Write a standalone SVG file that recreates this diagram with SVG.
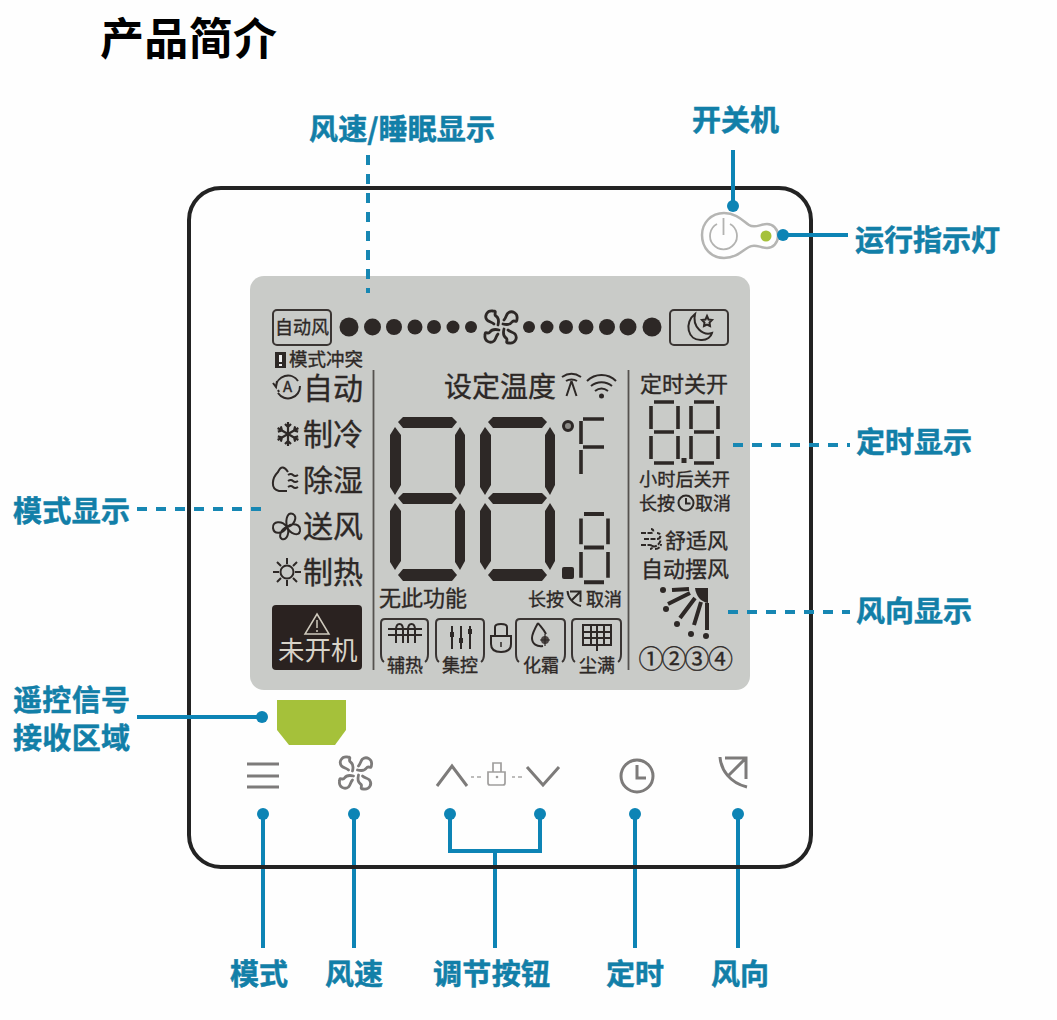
<svg xmlns="http://www.w3.org/2000/svg" xmlns:xlink="http://www.w3.org/1999/xlink" width="1057" height="1020" viewBox="0 0 1057 1020">
<style>
text{font-family:"Noto Sans CJK SC","Noto Sans",sans-serif}
.t{fill:#2d2826;stroke:#2d2826;stroke-width:.35}
.lab{fill:#127fa8;font-weight:700;font-size:29px;stroke:#127fa8;stroke-width:.5}
.ln{stroke:#0d84b5;stroke-width:4;fill:none}
.da{stroke:#1787b3;stroke-width:4;fill:none;stroke-dasharray:10 9}
.dot{fill:#0d84b5}
.ic{fill:none;stroke:#2d2826;stroke-width:2}
.bx{fill:none;stroke:#3a3533;stroke-width:2}
.seg{fill:#2d2826}
.sg{stroke:#2d2826;stroke-width:3.6;fill:none}
.gr{fill:none;stroke:#7d7b7a;stroke-width:3}
</style>
<defs>
<g id="digit">
<polygon class="seg" points="8,5 13,0 62,0 67,5 62,11 13,11"/>
<polygon class="seg" points="8,81 13,76 62,76 67,81 62,87 13,87"/>
<polygon class="seg" points="8,158 13,152 62,152 67,158 62,164 13,164"/>
<polygon class="seg" points="5,10 11,18 11,68 5,78 0,70 0,18"/>
<polygon class="seg" points="5,86 11,94 11,144 5,153 0,145 0,94"/>
<polygon class="seg" points="70,10 75,18 75,68 70,78 65,70 65,18"/>
<polygon class="seg" points="70,86 75,94 75,144 70,153 65,145 65,94"/>
</g>
<g id="small">
<path class="sg" d="M4,0H24M4,30H24M4,61H24M1,4V27M1,34V57M28,4V27M28,34V57"/>
</g>
<path id="blade" d="M-3,-2C-2,-6-2,-9-5,-11C-8,-13-3,-16-8,-16C-14,-17-17,-11-14,-7C-12,-5-9,-5-7,-3" fill="none" stroke-width="2.800" stroke-linecap="round"/>
<g id="fan">
<use xlink:href="#blade" href="#blade"/>
<use xlink:href="#blade" href="#blade" transform="rotate(90)"/>
<use xlink:href="#blade" href="#blade" transform="rotate(180)"/>
<use xlink:href="#blade" href="#blade" transform="rotate(270)"/>
</g>
<g id="swing">
<path d="M-15,-18C-14,-5-5,8 12,12M-10,-17H11V4M11,-17L-7,1" fill="none"/>
</g>
<path id="flk" d="M0,0V-12M-3,-10L0,-7L3,-10" fill="none" stroke="#2d2826" stroke-width="2.200"/>
</defs>
<rect width="1057" height="1020" fill="#fefefe"/>
<text x="100" y="55" font-size="44" font-weight="700" fill="#000" textLength="177">产品简介</text>

<g id="device">
<rect x="189" y="188" width="622" height="679" rx="32" fill="#fefefe" stroke="#232323" stroke-width="4"/>
</g>

<g id="lcd">
<rect x="250" y="276" width="500" height="414" rx="14" fill="#c9cbc8"/>
<path d="M373.500,370V670M628.500,370V670" stroke="#55524f" stroke-width="1.800"/>
<g id="fan-speed">
<rect x="273" y="310" width="58" height="35" rx="4" class="bx"/>
<text class="t" x="275" y="334" font-size="18" textLength="54">自动风</text>
<g class="seg">
<circle cx="349" cy="327" r="9.500"/><circle cx="372.500" cy="327" r="8.500"/><circle cx="394" cy="327" r="8"/><circle cx="415" cy="327" r="7.500"/><circle cx="434" cy="327" r="7"/><circle cx="453" cy="327" r="6.500"/><circle cx="471" cy="327" r="6"/>
<circle cx="529" cy="327" r="6"/><circle cx="547" cy="327" r="6.500"/><circle cx="566" cy="327" r="7"/><circle cx="586" cy="327" r="7.500"/><circle cx="607" cy="327" r="8"/><circle cx="628" cy="327" r="8.500"/><circle cx="652" cy="327" r="9.500"/>
</g>
<use xlink:href="#fan" href="#fan" x="501" y="327" stroke="#2d2826"/>
<rect x="670" y="310" width="58" height="35" rx="4" class="bx"/>
<path class="ic" d="M695,314C684,322 687,341 702,340C707,340 711,337 712,333C703,336 692,327 695,314Z"/>
<path class="ic" d="M707,316l1.500,3.500 3.500,.5 -2.500,2.500 .5,3.500 -3,-1.500 -3,1.500 .5,-3.500 -2.500,-2.500 3.500,-.5Z"/>
</g>
<g id="modes">
<rect x="275" y="352" width="11" height="16" fill="#2d2826"/><rect x="279" y="355" width="3" height="7" fill="#eee"/><rect x="279" y="364" width="3" height="2" fill="#eee"/>
<text class="t" x="289" y="366" font-size="18.500">模式冲突</text>
<path class="ic" d="M276,387a12,12 0 0 1 22,-6M300,386a12,12 0 0 1 -22,7M277,381l-1,6 -3,-4M279,392l-1,-2"/><text class="t" x="283" y="392" font-size="15">A</text>
<text class="t" x="303" y="399" font-size="30">自动</text>
<g transform="translate(288,434)"><use xlink:href="#flk" href="#flk"/><use xlink:href="#flk" href="#flk" transform="rotate(60)"/><use xlink:href="#flk" href="#flk" transform="rotate(120)"/><use xlink:href="#flk" href="#flk" transform="rotate(180)"/><use xlink:href="#flk" href="#flk" transform="rotate(240)"/><use xlink:href="#flk" href="#flk" transform="rotate(300)"/></g>
<text class="t" x="303" y="445" font-size="30">制冷</text>
<path class="ic" d="M288,472C285,467 281,465 278,472C272,478 270,489 279,491H287"/><path class="ic" d="M288,475q3,-2 5,0t5,0M288,481q3,-2 5,0t5,0M288,487q3,-2 5,0t5,0"/>
<text class="t" x="303" y="491" font-size="30">除湿</text>
<path class="ic" stroke-width="2.200" d="M287,527C282,520 272,521 273,528C274,535 283,534 287,527ZM287,527C285,518 288,512 293,514C298,517 294,526 287,527ZM287,527C292,522 301,524 300,531C299,537 290,534 287,527ZM287,527C290,532 287,541 282,539C278,537 281,529 287,527Z"/>
<text class="t" x="303" y="537" font-size="30">送风</text>
<circle class="ic" cx="287" cy="572" r="6.500"/><path class="ic" d="M287,558v6M287,580v6M273,572h6M295,572h6M277,562l4,4M293,578l4,4M297,562l-4,4M277,582l4,-4"/>
<text class="t" x="303" y="583" font-size="30">制热</text>
<rect x="272" y="605" width="90" height="65" rx="4" fill="#2a2220"/>
<path d="M317,614L329,634H305Z" fill="none" stroke="#cfcabd" stroke-width="1.500"/><path d="M317,620v8M317,630v2" stroke="#cfcabd" stroke-width="1.500"/>
<text x="278" y="660" font-size="26.500" fill="#d8d3c8">未开机</text>
</g>
<g id="temperature">
<text class="t" x="444" y="397" font-size="28">设定温度</text>
<path class="ic" d="M562,377c6,-4 13,-4 19,0M566,381c3,-2 8,-2 11,0M571.500,381l-5,15M571.500,381l5,15"/>
<path class="ic" stroke-width="2.500" d="M587,381c8,-8 21,-8 29,0M591,386c6,-5 15,-5 21,0M595,391c4,-3 9,-3 13,0"/><circle cx="601.500" cy="396" r="2.500" fill="#2d2826"/>
<use xlink:href="#digit" href="#digit" x="390" y="417"/>
<use xlink:href="#digit" href="#digit" x="480" y="417"/>
<circle cx="568" cy="426" r="4.500" fill="#8b8a86" stroke="#2d2826" stroke-width="3"/>
<path class="sg" d="M583,419H604M583,447H604M581,421V444M581,450V474"/>
<use xlink:href="#small" href="#small" transform="translate(580,514) scale(1,1.120)"/>
<rect x="562" y="567" width="12" height="12" rx="2" fill="#2d2826"/>
<text class="t" x="379" y="606" font-size="22">无此功能</text>
<text class="t" x="528" y="606" font-size="18">长按</text>
<g transform="translate(575,600) scale(.5)" stroke="#2d2826" stroke-width="4"><use xlink:href="#swing" href="#swing"/></g>
<text class="t" x="586" y="606" font-size="18">取消</text>
</g>
<g id="icons-row">
<path class="bx" d="M384,662C381,660 381,657 381,654V623C381,620 383,619 385,619H424C427,619 428,620 428,623V654C428,657 428,660 425,662"/>
<path class="ic" d="M388,635H422M388,629H422M396,643V630C396,622 403,622 403,630V643M408,643V630C408,622 415,622 415,630V643"/>
<text class="t" x="387" y="672" font-size="18" textLength="36">辅热</text>
<path class="bx" d="M439,662C436,660 436,657 436,654V623C436,620 438,619 440,619H480C483,619 484,620 484,623V654C484,657 484,660 481,662"/>
<path class="ic" d="M452,626V649M461,626V649M470,626V649"/><path d="M450,632h4v5h-4zM459,638h4v5h-4zM468,629h4v5h-4z" fill="#2d2826"/>
<text class="t" x="442" y="672" font-size="18" textLength="36">集控</text>
<path class="ic" stroke-width="2.400" d="M495,636V627C495,623 507,623 507,627V636M491,636H511V644C511,650 507,652 501,652C495,652 491,650 491,644Z"/><path d="M501,642v5" stroke="#2d2826" stroke-width="1.500"/>
<path class="bx" d="M519,662C516,660 516,657 516,654V623C516,620 518,619 520,619H561C564,619 565,620 565,623V654C565,657 565,660 562,662"/>
<path class="ic" d="M538,623C534,630 532,634 532,638C532,644 537,647 543,646M538,623C541,627 544,630 546,634"/><circle cx="545" cy="640" r="4" fill="#4b4543"/><path d="M545,634v12M540,640h10" stroke="#2d2826" stroke-width="1.200"/>
<text class="t" x="523" y="672" font-size="18" textLength="36">化霜</text>
<path class="bx" d="M575,662C572,660 572,657 572,654V623C572,620 574,619 576,619H617C620,619 621,620 621,623V654C621,657 621,660 618,662"/>
<path class="ic" stroke-width="2.200" d="M583,625H611V645H583ZM583,632H611M583,638H611M591,625V645M597,625V651M604,625V645"/>
<text class="t" x="579" y="672" font-size="18" textLength="36">尘满</text>
</g>
<g id="timer">
<text class="t" x="640" y="392" font-size="22" textLength="88">定时关开</text>
<use xlink:href="#small" href="#small" x="650" y="402"/>
<use xlink:href="#small" href="#small" x="690" y="402"/>
<rect x="681.500" y="458" width="5" height="5" fill="#2d2826"/>
<text class="t" x="639" y="486" font-size="18.200">小时后关开</text>
<text class="t" x="639" y="510" font-size="18">长按</text>
<circle class="ic" cx="686" cy="503" r="7.500"/><path class="ic" d="M686,498v5.500h4.500"/>
<text class="t" x="695" y="510" font-size="18">取消</text>
</g>
<g id="wind-dir">
<path class="ic" stroke-width="1.600" stroke-dasharray="5 1.500" d="M641,533h10c3,0 3,-4 0,-4M644,539h13c4,0 5,-6 0,-6M641,545h9c3,0 3,4 0,4M652,546c4,2 8,-2 9,-7M655,549c4,0 6,-3 6,-5"/>
<text class="t" x="665" y="548" font-size="21">舒适风</text>
<text class="t" x="641" y="577" font-size="22">自动摆风</text>
<path d="M695,588H708V603C701,602 696,596 695,588Z" fill="#2d2826"/>
<path d="M672,590L689,589M668,604L690,593M680,618L695,598M694,625L701,602M707,603V630" stroke="#2d2826" stroke-width="4"/>
<g fill="#2d2826"><circle cx="663" cy="590" r="3"/><circle cx="666" cy="609" r="3"/><circle cx="677" cy="624" r="3"/><circle cx="691" cy="634" r="3"/><circle cx="706" cy="636" r="3"/></g>
<g class="t" font-size="25"><text x="638.500" y="668">①</text><text x="661.500" y="668">②</text><text x="684.500" y="668">③</text><text x="708" y="668">④</text></g>
</g>
</g>

<g id="power">
<path d="M724,213C737,213 744,222 749,225C755,229 760,224 767,224C773,224 778,229 778,236C778,243 773,248 767,248C760,248 755,243 749,247C743,250 737,258 724,258C711,258 702,248 702,235C702,223 711,213 724,213Z" fill="#fefefe" stroke="#b5b5b3" stroke-width="2.500"/>
<path d="M717,224A13.500,13.500 0 1 0 730,224M723.500,218V235" fill="none" stroke="#b3b3b1" stroke-width="1.800"/>
<circle cx="766" cy="236" r="5.500" fill="#a5c13a"/>
</g>
<g id="ir-receiver"><polygon points="277,700 346,700 346,730 335,745 289,745 277,730" fill="#a5c13a"/></g>
<g id="keys" stroke="#7d7b7a">
<path class="gr" d="M247,764H279M247,776H279M247,787H279"/>
<use xlink:href="#fan" href="#fan" x="355.500" y="773" stroke="#7d7b7a"/>
<path class="gr" d="M437,786L452,766L467,786M527,767L543,785L559,767"/>
<path d="M471,777h3M477,777h4M512,777h3M518,777h4" stroke="#a8a6a5" stroke-width="1.500"/>
<path d="M493,772V763H501V772M488,772H505V783C505,784 504,785 503,785H490C489,785 488,784 488,783Z" fill="none" stroke="#a09e9d" stroke-width="1.700"/><circle cx="497" cy="777" r="1.300" fill="#a09e9d" stroke="none"/>
<circle cx="637" cy="776" r="16" fill="none" stroke-width="3"/><path class="gr" d="M637,765V778H646"/>
<g transform="translate(735,775)" stroke-width="3"><use xlink:href="#swing" href="#swing"/></g>
</g>

<g id="connectors">
<path class="da" d="M368,155V293"/>
<path class="ln" d="M733,150V206M783,235H848"/>
<circle class="dot" cx="733" cy="206" r="6"/><circle class="dot" cx="783" cy="235" r="6"/>
<path class="da" d="M733,445H850M728,612H850M137,509H262"/>
<path class="ln" d="M137,717H262"/><circle class="dot" cx="262" cy="717" r="6"/>
<path class="ln" d="M263,814V948M354,814V948M635,814V948M738,814V948M450,814V851H540V814M495,851V948"/>
<g class="dot"><circle cx="263" cy="814" r="6"/><circle cx="354" cy="814" r="6"/><circle cx="450" cy="814" r="6"/><circle cx="540" cy="814" r="6"/><circle cx="635" cy="814" r="6"/><circle cx="738" cy="814" r="6"/></g>
</g>
<path id="device-edge" d="M220,867H780" stroke="#232323" stroke-width="4"/>

<g id="labels">
<text class="lab" x="309" y="140" textLength="186">风速/睡眠显示</text>
<text class="lab" x="692" y="131" textLength="87">开关机</text>
<text class="lab" x="855" y="251" textLength="145">运行指示灯</text>
<text class="lab" x="856" y="453" textLength="116">定时显示</text>
<text class="lab" x="856" y="622" textLength="116">风向显示</text>
<text class="lab" x="13" y="522" textLength="117">模式显示</text>
<text class="lab" x="13" y="711" textLength="117">遥控信号</text>
<text class="lab" x="13" y="749" textLength="117">接收区域</text>
<text class="lab" x="230" y="985" textLength="58">模式</text>
<text class="lab" x="325" y="985" textLength="58">风速</text>
<text class="lab" x="433" y="985" textLength="117">调节按钮</text>
<text class="lab" x="606" y="985" textLength="58">定时</text>
<text class="lab" x="711" y="985" textLength="58">风向</text>
</g>
</svg>
